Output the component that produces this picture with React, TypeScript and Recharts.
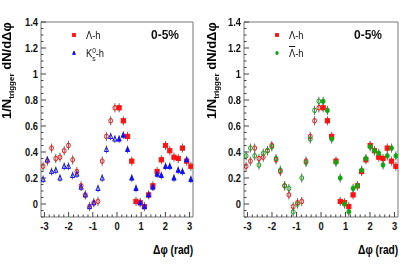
import React from "react";
import { ScatterChart, Scatter, XAxis, YAxis, ErrorBar, ReferenceArea } from "recharts";

// 36 bins of pi/18 over [-pi, pi]
const phiCenters = Array.from({ length: 36 }, (_, i) => -Math.PI + ((i + 0.5) * Math.PI) / 18);

const lambdaH = [
  0.29, 0.33, 0.43, 0.35, 0.36, 0.41, 0.45, 0.34, 0.25, 0.14, 0.07, -0.02, 0.01, 0.02, 0.33, 0.52, 0.64, 0.74,
  0.74, 0.64, 0.52, 0.33, 0.02, 0.01, -0.02, 0.07, 0.14, 0.25, 0.34, 0.45, 0.41, 0.36, 0.35, 0.43, 0.33, 0.29,
];
const k0sH = [
  0.19, 0.34, 0.25, 0.26, 0.2, 0.29, 0.29, 0.22, 0.23, 0.13, 0.07, -0.02, 0.01, 0.12, 0.2, 0.42, 0.52, 0.5,
  0.5, 0.53, 0.42, 0.2, 0.12, 0.01, -0.02, 0.07, 0.13, 0.23, 0.22, 0.29, 0.29, 0.2, 0.26, 0.25, 0.34, 0.19,
];
const antiLambdaH = [
  0.37, 0.43, 0.37, 0.3, 0.39, 0.41, 0.44, 0.35, 0.26, 0.14, 0.12, -0.06, 0.0, 0.2, 0.32, 0.5, 0.72, 0.79,
  0.79, 0.72, 0.5, 0.32, 0.2, 0.0, -0.06, 0.12, 0.14, 0.26, 0.35, 0.44, 0.41, 0.39, 0.3, 0.37, 0.43, 0.37,
];
const lambdaErr = 0.035;
const k0sErr = 0.03;
const antiLambdaErr = 0.035;

const xLabels = [-3, -2, -1, 0, 1, 2, 3];
const yLabels = [0, 0.2, 0.4, 0.6, 0.8, 1, 1.2, 1.4];
const xTicks = Array.from({ length: 31 }, (_, k) => Math.round((-3 + k * 0.2) * 10) / 10);
const yTicks = Array.from({ length: 31 }, (_, k) => Math.round((-0.1 + k * 0.05) * 100) / 100);

const RED = "#ff1010";
const BLUE = "#1010ff";
const GREEN = "#10a810";
const FONT = "'Liberation Sans', Arial, Helvetica, sans-serif";

const toPoints = (vals: number[], err: number) => vals.map((y, i) => ({ x: phiCenters[i], y, err }));

const marker = (kind: string, color: string, filled: boolean, s = 2.1) => (p: any) => {
  const { cx, cy } = p;
  if (cx == null || cy == null) return <g />;
  const fill = filled ? color : "none";
  if (kind === "square")
    return <rect x={cx - s} y={cy - s} width={2 * s} height={2 * s} fill={fill} stroke={color} strokeWidth={1} />;
  if (kind === "triangle")
    return (
      <polygon
        points={`${cx},${cy - s - 0.5} ${cx - s},${cy + s} ${cx + s},${cy + s}`}
        fill={fill}
        stroke={color}
        strokeWidth={1}
      />
    );
  return <ellipse cx={cx} cy={cy} rx={s - 0.2} ry={s + 0.2} fill={fill} stroke={color} strokeWidth={1} />;
};

const XTick = (p: any) => {
  const { x, y, payload } = p;
  const major = xLabels.includes(payload.value);
  return (
    <g>
      <line x1={x} x2={x} y1={y} y2={y - (major ? 5 : 2.5)} stroke="#444" />
      {major && (
        <text
          transform={`translate(${x},${y + 13}) scale(0.85,1)`}
          textAnchor="middle"
          fontSize={11}
          fontWeight="bold"
          fontFamily={FONT}
          fill="#111"
        >
          {payload.value}
        </text>
      )}
    </g>
  );
};

const YTick = (p: any) => {
  const { x, y, payload } = p;
  const major = yLabels.includes(payload.value);
  return (
    <g>
      <line x1={x} x2={x + (major ? 5 : 2.5)} y1={y} y2={y} stroke="#444" />
      {major && (
        <text
          transform={`translate(${x - 3},${y + 4}) scale(0.85,1)`}
          textAnchor="end"
          fontSize={11}
          fontWeight="bold"
          fontFamily={FONT}
          fill="#111"
        >
          {payload.value}
        </text>
      )}
    </g>
  );
};

interface SeriesDef {
  name: string;
  values: number[];
  err: number;
  kind: string;
  openKind: string;
  color: string;
}

interface PanelProps {
  left: number;
  width: number;
  yw: number;
  mr: number;
  series: SeriesDef[];
  legend: { label: React.ReactNode; kind: string; color: string }[];
  lx: number;
}

const Panel = ({ left, width, yw, mr, series, legend, lx }: PanelProps) => (
  <div style={{ position: "absolute", left, top: 0, width, height: 266, fontFamily: FONT }}>
    <ScatterChart width={width} height={266} margin={{ top: 22, right: mr, bottom: 0, left: 0 }}>
      <XAxis
        type="number"
        dataKey="x"
        domain={[-Math.PI, Math.PI]}
        allowDataOverflow
        ticks={xTicks}
        interval={0}
        tickSize={0}
        tickMargin={0}
        tickLine={false}
        axisLine={false}
        height={49}
        tick={(p: any) => <XTick {...p} />}
      />
      <YAxis
        type="number"
        dataKey="y"
        domain={[-0.1, 1.4]}
        allowDataOverflow
        ticks={yTicks}
        interval={0}
        tickSize={0}
        tickMargin={0}
        tickLine={false}
        axisLine={false}
        width={yw}
        tick={(p: any) => <YTick {...p} />}
      />
      <ReferenceArea x1={-Math.PI} x2={Math.PI} y1={-0.1} y2={1.4} fill="none" stroke="#777" strokeWidth={1} />
      {series.flatMap((s) => {
        const pts = toPoints(s.values, s.err);
        return [
          <Scatter
            key={s.name + "-open"}
            data={pts.filter((d) => d.x < 0)}
            shape={marker(s.openKind, s.color, false)}
            isAnimationActive={false}
          >
            <ErrorBar dataKey="err" direction="y" width={0} stroke="#666" strokeWidth={1} />
          </Scatter>,
          <Scatter
            key={s.name + "-filled"}
            data={pts.filter((d) => d.x > 0)}
            shape={marker(s.kind, s.color, true)}
            isAnimationActive={false}
          >
            <ErrorBar dataKey="err" direction="y" width={0} stroke="#666" strokeWidth={1} />
          </Scatter>,
        ];
      })}
    </ScatterChart>

    {/* y title */}
    <div
      style={{
        position: "absolute",
        left: lx,
        top: 119,
        transformOrigin: "0 0",
        transform: "rotate(-90deg)",
        whiteSpace: "nowrap",
        fontSize: 13,
        fontWeight: "bold",
        lineHeight: "14px",
      }}
    >
      1/N<sub style={{ fontSize: 8, verticalAlign: "-3px" }}>trigger</sub> dN/d&Delta;&phi;
    </div>

    {/* x title */}
    <div
      style={{
        position: "absolute",
        right: mr,
        top: 242,
        whiteSpace: "nowrap",
        fontSize: 12,
        fontWeight: "bold",
        transformOrigin: "100% 50%",
        transform: "scaleX(0.85)",
        lineHeight: "16px",
      }}
    >
      &Delta;&phi; (rad)
    </div>

    {/* legend */}
    {legend.map((l, i) => (
      <React.Fragment key={i}>
        <svg style={{ position: "absolute", left: yw + 28, top: 30 + i * 18 }} width={10} height={10}>
          {marker(l.kind, l.color, true, 1.4)({ cx: 5, cy: 5 })}
        </svg>
        <div
          style={{
            position: "absolute",
            left: yw + 45,
            top: 27 + i * 18,
            fontSize: 11,
            lineHeight: "16px",
            whiteSpace: "nowrap",
            transformOrigin: "0 50%",
            transform: "scaleX(0.85)",
            color: "#111",
          }}
        >
          {l.label}
        </div>
      </React.Fragment>
    ))}
    <div
      style={{
        position: "absolute",
        left: yw + 110,
        top: 27,
        fontSize: 12,
        fontWeight: "bold",
        lineHeight: "16px",
        color: "#111",
      }}
    >
      0-5%
    </div>
  </div>
);

const lambdaSeries: SeriesDef = {
  name: "lambda",
  values: lambdaH,
  err: lambdaErr,
  kind: "square",
  openKind: "circle",
  color: RED,
};

export default function App() {
  return (
    <div style={{ position: "fixed", left: 0, top: 0, width: 407, height: 266, background: "#fff" }}>
      <Panel
        left={0}
        width={200}
        yw={41}
        mr={7}
        lx={0}
        series={[
          lambdaSeries,
          { name: "k0s", values: k0sH, err: k0sErr, kind: "triangle", openKind: "triangle", color: BLUE },
        ]}
        legend={[
          { label: <span>&Lambda;-h</span>, kind: "square", color: RED },
          {
            label: (
              <span>
                K
                <span style={{ position: "relative", fontSize: 8 }}>
                  <span style={{ position: "absolute", left: 0, top: -7 }}>0</span>
                  <span style={{ position: "relative", top: 4 }}>s</span>
                </span>
                -h
              </span>
            ),
            kind: "triangle",
            color: BLUE,
          },
        ]}
      />
      <Panel
        left={200}
        width={207}
        yw={44}
        mr={9}
        lx={5}
        series={[
          lambdaSeries,
          { name: "antilambda", values: antiLambdaH, err: antiLambdaErr, kind: "circle", openKind: "circle", color: GREEN },
        ]}
        legend={[
          { label: <span>&Lambda;-h</span>, kind: "square", color: RED },
          {
            label: (
              <span>
                <span style={{ textDecoration: "overline" }}>&Lambda;</span>-h
              </span>
            ),
            kind: "circle",
            color: GREEN,
          },
        ]}
      />
    </div>
  );
}
